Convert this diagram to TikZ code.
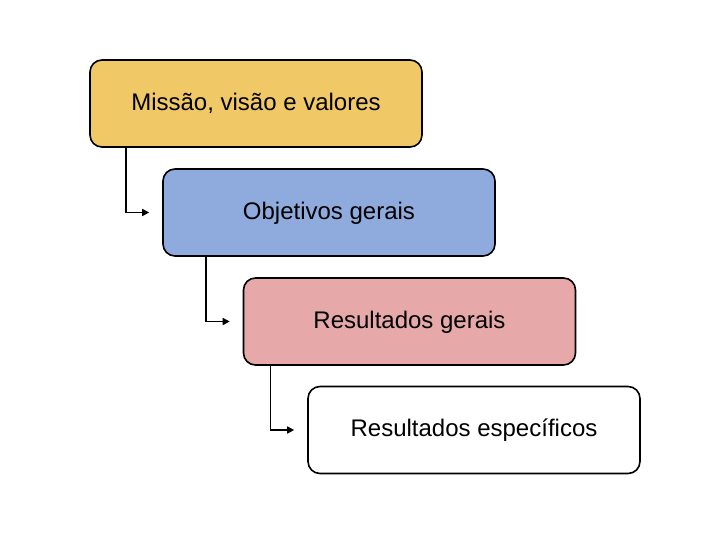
\documentclass[tikz,border=0pt]{standalone}
\usepackage{fontspec}
\setmainfont{Liberation Sans}
\usetikzlibrary{arrows.meta,calc}
\definecolor{cyellow}{HTML}{F0C966}
\definecolor{cblue}{HTML}{8FAADC}
\definecolor{cpink}{HTML}{E6A8A8}
\begin{document}
\begin{tikzpicture}[x=1pt,y=-1pt,
  box/.style={draw=black,line width=1.6pt,rounded corners=12pt,minimum width=332pt,minimum height=87pt,inner sep=0pt,text height=17pt,text depth=3pt,font=\fontsize{24}{28}\selectfont},
  conn/.style={draw=black,line width=1.5pt,-{Triangle[length=7pt,width=7pt]}}]
\useasboundingbox (0,0) rectangle (724,534);
\node[box,fill=cyellow] (b1) at (256,103.5) {Missão, visão e valores};
\node[box,fill=cblue] (b2) at (329,212.5) {Objetivos gerais};
\node[box,fill=cpink] (b3) at (409.5,321.5) {Resultados gerais};
\node[box,fill=white] (b4) at (474,430) {Resultados específicos};
\draw[conn] ($(b1.south west)+(37,0)$) |- ([xshift=-13pt]b2.west);
\draw[conn] ($(b2.south west)+(44,0)$) |- ([xshift=-13pt]b3.west);
\draw[conn] ($(b3.south west)+(28,0)$) |- ([xshift=-13pt]b4.west);
\end{tikzpicture}
\end{document}
